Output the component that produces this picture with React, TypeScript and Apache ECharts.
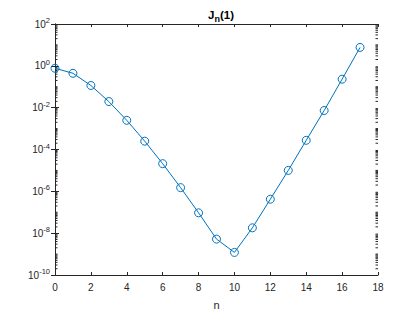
import React, { useEffect, useRef } from "react";
import * as echarts from "echarts";

const nValues: number[] = [0, 1, 2, 3, 4, 5, 6, 7, 8, 9, 10, 11, 12, 13, 14, 15, 16, 17];
const jValues: number[] = [
  0.765, 0.44, 0.115, 0.0196, 0.00248, 2.5e-4, 2.1e-5, 1.5e-6, 9.4e-8, 5.2e-9,
  1.2e-9, 1.8e-8, 4.2e-7, 1.0e-5, 2.75e-4, 7.3e-3, 0.23, 7.6,
];
const xTicks: number[] = [0, 2, 4, 6, 8, 10, 12, 14, 16, 18];
const yExponents: number[] = [-10, -8, -6, -4, -2, 0, 2];
const minorMultipliers: number[] = [1, 2, 3, 4, 5, 6, 7, 8, 9];

const AXIS = "#262626";
const LINE = "#0072BD";

export default function App() {
  const ref = useRef<HTMLDivElement>(null);
  useEffect(() => {
    if (!ref.current) return;
    const chart = echarts.init(ref.current, null, { renderer: "svg" });
    const minorTicks: number[][] = [];
    for (let e = yExponents[0]; e < yExponents[yExponents.length - 1]; e++) {
      for (const m of minorMultipliers) {
        if (m === 1 && yExponents.includes(e)) continue;
        minorTicks.push([0, m * Math.pow(10, e)]);
      }
    }
    const yMin = Math.pow(10, yExponents[0]);
    const yMax = Math.pow(10, yExponents[yExponents.length - 1]);
    const xMin = xTicks[0];
    const xMax = xTicks[xTicks.length - 1];
    const labelFont = "Liberation Sans, Arial, sans-serif";
    chart.setOption({
      animation: false,
      backgroundColor: "#fff",
      title: {
        text: "{j|J}{s|n}{j|(1)}",
        left: 216,
        top: 2,
        textAlign: "center",
        textStyle: {
          rich: {
            j: { fontSize: 11.5, fontWeight: "bold", color: "#000", fontFamily: labelFont },
            s: { fontSize: 9, fontWeight: "bold", color: "#000", fontFamily: labelFont, padding: [7, 0, 0, 0] },
          },
        },
      },
      grid: { left: 55, right: 42, top: 24, bottom: 36 },
      xAxis: [
        {
          type: "value",
          min: xMin,
          max: xMax,
          interval: 2,
          name: "n",
          nameLocation: "middle",
          nameGap: 24,
          nameTextStyle: { fontSize: 11, color: AXIS, fontFamily: labelFont },
          axisLine: { show: true, lineStyle: { color: AXIS, width: 1 } },
          axisTick: { show: true, inside: true, length: 3, lineStyle: { color: AXIS } },
          axisLabel: { fontSize: 10, color: AXIS, margin: 7, fontFamily: labelFont },
          splitLine: { show: false },
        },
        {
          type: "value",
          position: "top",
          min: xMin,
          max: xMax,
          interval: 2,
          axisLine: { show: true, lineStyle: { color: AXIS, width: 1 } },
          axisTick: { show: true, inside: true, length: 3, lineStyle: { color: AXIS } },
          axisLabel: { show: false },
          splitLine: { show: false },
        },
      ],
      yAxis: [
        {
          type: "log",
          logBase: 10,
          min: yMin,
          max: yMax,
          interval: 2,
          axisLine: { show: true, lineStyle: { color: AXIS, width: 1 } },
          axisTick: { show: true, inside: true, length: 4, lineStyle: { color: AXIS } },
          axisLabel: {
            margin: 5,
            color: AXIS,
            fontFamily: labelFont,
            formatter: (v: number) => {
              const e = Math.round(Math.log10(v));
              return "{a|10}{b|" + e + "}";
            },
            rich: {
              a: { fontSize: 10, color: AXIS, fontFamily: labelFont },
              b: { fontSize: 7.5, color: AXIS, fontFamily: labelFont, padding: [0, 0, 7, 0] },
            },
          },
          splitLine: { show: false },
        },
        {
          type: "log",
          logBase: 10,
          min: yMin,
          max: yMax,
          interval: 2,
          position: "right",
          axisLine: { show: true, lineStyle: { color: AXIS, width: 1 } },
          axisTick: { show: true, inside: true, length: 4, lineStyle: { color: AXIS } },
          axisLabel: { show: false },
          splitLine: { show: false },
        },
      ],
      series: [
        {
          type: "line",
          data: nValues.map((n, i) => [n, jValues[i]]),
          symbol: "circle",
          symbolSize: 8,
          lineStyle: { color: LINE, width: 1 },
          itemStyle: { color: "rgba(0,0,0,0)", borderColor: LINE, borderWidth: 1 },
          clip: false,
        },
        {
          type: "custom",
          silent: true,
          clip: false,
          data: minorTicks,
          encode: { x: 0, y: 1 },
          renderItem: (params: any, api: any) => {
            const p = api.coord([0, api.value(1)]);
            const cs = params.coordSys;
            const y = p[1];
            return {
              type: "group",
              children: [
                { type: "line", shape: { x1: cs.x, y1: y, x2: cs.x + 2.5, y2: y }, style: { stroke: AXIS, lineWidth: 1 } },
                {
                  type: "line",
                  shape: { x1: cs.x + cs.width, y1: y, x2: cs.x + cs.width - 2.5, y2: y },
                  style: { stroke: AXIS, lineWidth: 1 },
                },
              ],
            };
          },
        },
      ],
    });
    return () => chart.dispose();
  }, []);
  return <div ref={ref} style={{ width: 420, height: 315, position: "absolute", left: 0, top: 0 }} />;
}
